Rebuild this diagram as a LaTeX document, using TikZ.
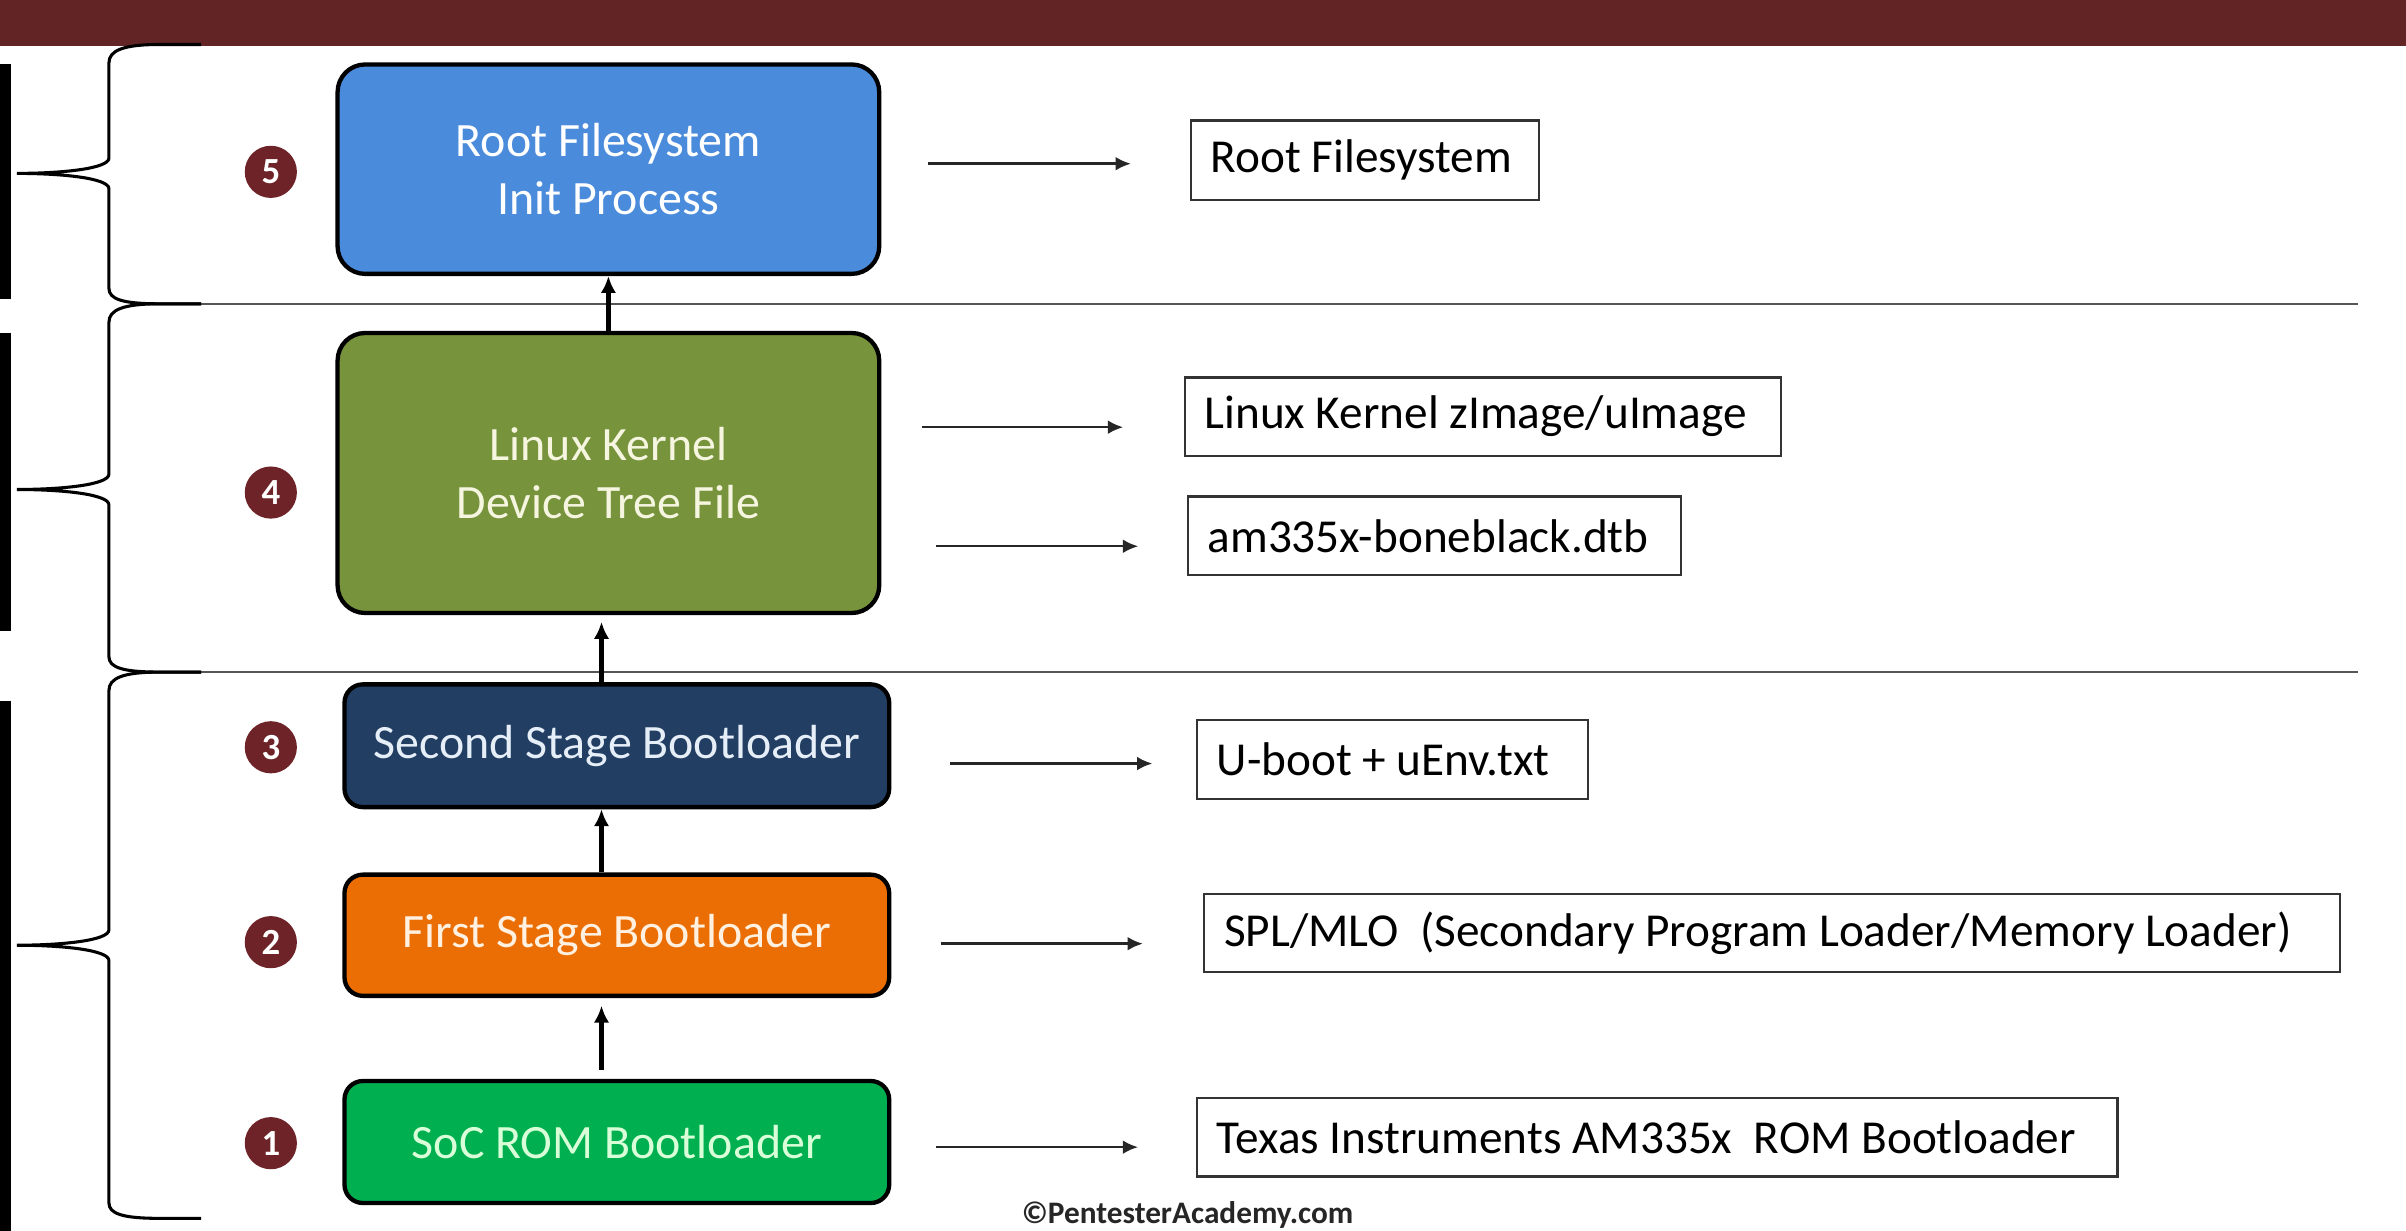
\documentclass[tikz,border=0pt]{standalone}
\usepackage{fontspec}
\setmainfont{Carlito}
\usetikzlibrary{arrows.meta}
\definecolor{barred}{HTML}{632425}
\definecolor{numred}{HTML}{6E2328}
\definecolor{rootblue}{HTML}{4A8BDB}
\definecolor{kernolive}{HTML}{77933C}
\definecolor{ssbnavy}{HTML}{223F63}
\definecolor{fsborange}{HTML}{EB6E04}
\definecolor{socgreen}{HTML}{00B050}
\definecolor{txtcream}{HTML}{F5F5E0}
\definecolor{txtnavy}{HTML}{E6EEF8}
\definecolor{txtorange}{HTML}{FFF0E0}
\definecolor{txtgreen}{HTML}{D9FFD9}
\definecolor{sepgray}{HTML}{555555}
\definecolor{boxgray}{HTML}{333333}
\newcommand{\leftin}[2]{\makebox[#1][l]{#2}}
\begin{document}
\begin{tikzpicture}[x=0.5pt,y=-0.5pt,
  stagebox/.style={draw=black, line width=1.4pt, rounded corners=9pt,
    inner sep=0pt, align=center, font=\fontsize{15.6}{19}\selectfont},
  numdot/.style={circle, fill=numred, text=white, minimum size=17pt, inner sep=0pt,
    font=\bfseries\fontsize{12}{13}\selectfont},
  outbox/.style={draw=boxgray, line width=0.7pt, inner ysep=0pt, inner xsep=6.5pt,
    font=\fontsize{15.4}{18}\selectfont, text=black},
  harrow/.style={draw=black!85, line width=0.8pt, -{Latex[length=5pt,width=4.5pt]}},
  varrow/.style={draw=black, line width=1.4pt, -{Latex[length=5.5pt,width=5pt]}},
  bracepath/.style={draw=black, line width=1pt},
  sepline/.style={draw=sepgray, line width=0.8pt}
]
\useasboundingbox (0,0) rectangle (1568,802);
% top bar
\fill[barred] (0,0) rectangle (1568,30);
% left black bars
\fill[black] (0,42) rectangle (7,195);
\fill[black] (0,217) rectangle (7,411);
\fill[black] (0,457) rectangle (7,802);
% separators
\draw[sepline] (131,198) -- (1537,198);
\draw[sepline] (131,438) -- (1537,438);
% braces
\draw[bracepath] (131,29) -- (104,29) .. controls (80,29) and (71,33) .. (71,41)
  -- (71,103) .. controls (71,110) and (40,113) .. (11,113)
  .. controls (40,113) and (71,116) .. (71,123)
  -- (71,188) .. controls (71,195) and (80,198) .. (104,198) -- (131,198);
\draw[bracepath] (131,198) -- (104,198) .. controls (80,198) and (71,202) .. (71,210)
  -- (71,309) .. controls (71,316) and (40,319) .. (11,319)
  .. controls (40,319) and (71,322) .. (71,329)
  -- (71,428) .. controls (71,435) and (80,438) .. (104,438) -- (131,438);
\draw[bracepath] (131,438) -- (104,438) .. controls (80,438) and (71,442) .. (71,450)
  -- (71,606) .. controls (71,613) and (40,616) .. (11,616)
  .. controls (40,616) and (71,619) .. (71,626)
  -- (71,784) .. controls (71,791) and (80,794) .. (104,794) -- (131,794);
% stage boxes
\node[stagebox, fill=rootblue, text=white, minimum width=176.5pt, minimum height=68.25pt]
  (root) at (396.5,110.25) {Root Filesystem\\Init Process};
\node[stagebox, fill=kernolive, text=txtcream, minimum width=176.5pt, minimum height=91.25pt]
  (linux) at (396.5,308.25) {Linux Kernel\\Device Tree File};
\node[stagebox, rounded corners=6pt, fill=ssbnavy, text=txtnavy, minimum width=177.5pt, minimum height=40pt]
  (second) at (402,486) {Second Stage Bootloader};
\node[stagebox, rounded corners=6pt, fill=fsborange, text=txtorange, minimum width=177.5pt, minimum height=39.5pt]
  (first) at (402,609.5) {First Stage Bootloader};
\node[stagebox, rounded corners=6pt, fill=socgreen, text=txtgreen, minimum width=177.5pt, minimum height=39.75pt]
  (soc) at (402,744.25) {SoC ROM Bootloader};
% number dots
\node[numdot] (n5) at (176.5,112) {5};
\node[numdot] (n4) at (176.5,321) {4};
\node[numdot] (n3) at (176.5,487) {3};
\node[numdot] (n2) at (176.5,614) {2};
\node[numdot] (n1) at (176.5,745) {1};
% vertical arrows
\draw[varrow] (linux.north) -- (root.south);
\draw[varrow, shorten >=2.2pt] ([xshift=-5pt]second.north) -- ([xshift=-5pt]second.north |- linux.south);
\draw[varrow] ([xshift=-5pt]first.north) -- ([xshift=-5pt]second.south);
\draw[varrow, shorten <=3pt, shorten >=2.5pt] ([xshift=-5pt]soc.north) -- ([xshift=-5pt]first.south);
% output boxes
\node[outbox, minimum height=26pt] (rfs) at (889.5,104.5) {\leftin{100.5pt}{Root Filesystem}};
\node[outbox, minimum height=25.5pt] (lk) at (966.3,271.5) {\leftin{181.3pt}{Linux Kernel zImage/uImage}};
\node[outbox, minimum height=25.6pt] (dtb) at (934.8,349.2) {\leftin{147.8pt}{am335x-boneblack.dtb}};
\node[outbox, minimum height=25.8pt] (uboot) at (907.5,494.9) {\leftin{114.5pt}{U-boot + uEnv.txt}};
\node[outbox, minimum height=25.3pt] (spl) at (1154.9,608) {\leftin{357.2pt}{SPL/MLO\ \ (Secondary Program Loader/Memory Loader)}};
\node[outbox, minimum height=25.5pt] (ti) at (1080,741.2) {\leftin{287pt}{Texas Instruments AM335x\ \ ROM Bootloader}};
% horizontal arrows
\coordinate (a5s) at (605,106.7);   \coordinate (a5e) at (737,106.7);
\coordinate (a4s) at (601,278.4);   \coordinate (a4e) at (732,278.4);
\coordinate (a4bs) at (609.7,356);  \coordinate (a4be) at (741.8,356);
\coordinate (a3s) at (619,497.6);   \coordinate (a3e) at (751,497.6);
\coordinate (a2s) at (613,615);     \coordinate (a2e) at (744.8,615);
\coordinate (a1s) at (610,747.6);   \coordinate (a1e) at (741.7,747.6);
\draw[harrow] (a5s) -- (a5e);
\draw[harrow] (a4s) -- (a4e);
\draw[harrow] (a4bs) -- (a4be);
\draw[harrow] (a3s) -- (a3e);
\draw[harrow] (a2s) -- (a2e);
\draw[harrow] (a1s) -- (a1e);
% copyright
\node[font=\bfseries\fontsize{10.2}{12}\selectfont, text=black!85, inner sep=0pt] (copy) at (774,791.6) {©PentesterAcademy.com};
\end{tikzpicture}
\end{document}
